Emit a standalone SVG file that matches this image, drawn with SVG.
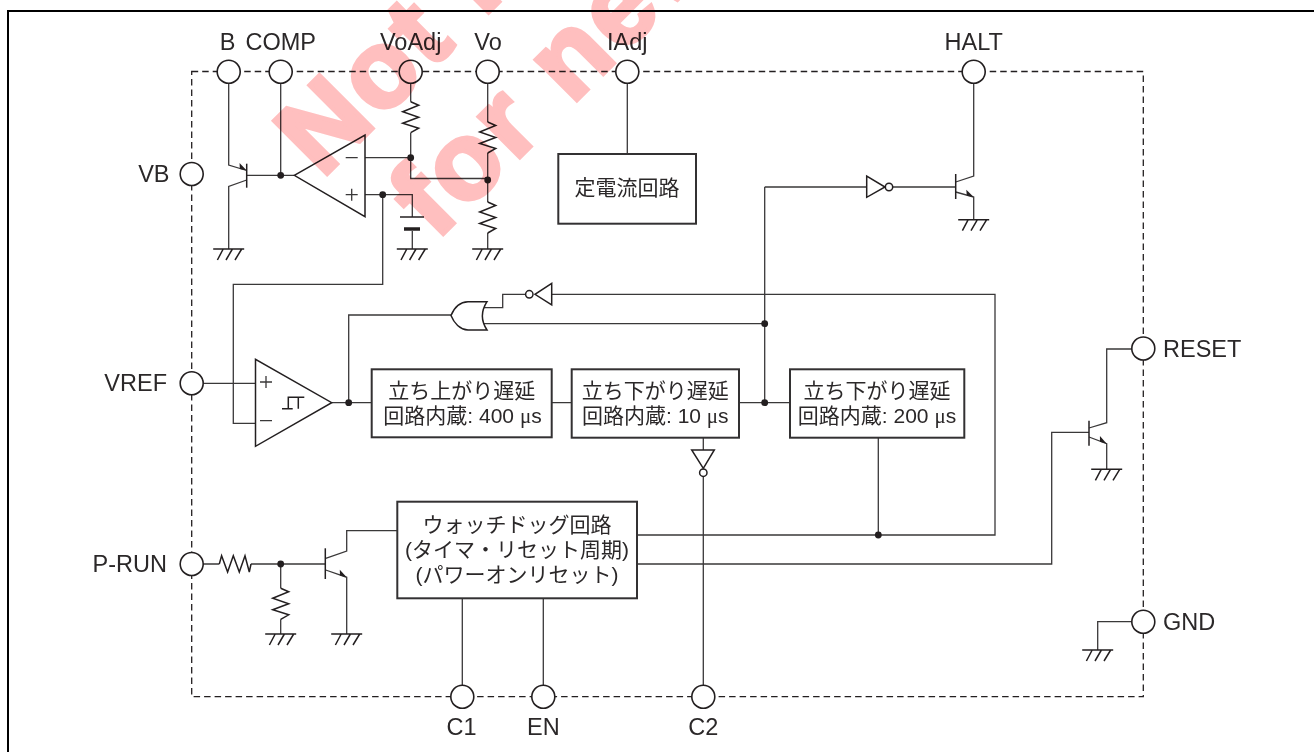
<svg xmlns="http://www.w3.org/2000/svg" width="1314" height="752" viewBox="0 0 1314 752">
<style>
text{font-family:"Liberation Sans","Noto Sans CJK JP",sans-serif;fill:#2b2829}
.pin{font-size:23.5px}
.m{text-anchor:middle}
.e{text-anchor:end}
.jp{font-size:21px;text-anchor:middle}
.w{fill:none;stroke:#3a3839;stroke-width:1.3}
.s{fill:none;stroke:#231f20;stroke-width:1.5}
.b{fill:none;stroke:#333132;stroke-width:2}
.d{fill:#231f20}
.p{fill:#fff;stroke:#231f20;stroke-width:1.6}
.u{font-family:"Liberation Serif",serif}
.wm{font-family:"Liberation Sans",sans-serif;font-weight:bold;font-size:109px;letter-spacing:4px;fill:#ffbfbf;stroke:#ffbfbf;stroke-width:4.5;mix-blend-mode:multiply}
</style>
<defs>
<g id="g"><path class="s" d="M-15.5 0H15.5M-5.5 0L-11.3 11M3.7 0L-2.7 11M13 0L6.3 11"/></g>
<g id="r"><path class="s" d="M0 0L8 3.5L-8 10L8 15.5L-8 21.5L8 26.5L0 31"/></g>
<g id="rh"><path class="s" d="M0 0L2.3 -8.3L8.3 8L14 -8.3L20 8L25.7 -8.3L30 8L31.7 0"/></g>
<path id="ah" d="M0 0L-9 -5L-7 0.5Z" fill="#231f20"/>
</defs>
<path fill="none" stroke="#000" stroke-width="2" d="M8 752V11H1314"/>
<path class="w" stroke-dasharray="6.5 4" style="stroke:#231f20" d="M191.7 71.5H1143.3V696.7H191.7Z"/>
<g id="connectors">
<path class="w" d="M228.7 83V165L246.7 170.5M246.7 180L228.7 186.5V249"/>
<path class="w" d="M246.7 175.3H294.3M280.7 83V175.3"/>
<path class="w" d="M365 157.7H410.7M410.7 83V101.7M410.7 132.7V178.5H487.7M487.7 83V122M487.7 153V202M487.7 233V249"/>
<path class="w" d="M365 194.7H412.3V217M412.3 231V249"/>
<path class="w" d="M382.7 194.7V284.3H233.3V423.3H255.5M203 383.3H255.5"/>
<path class="w" d="M331.7 402.7H371.7M348.7 402.7V315H451"/>
<path class="w" d="M484 307.7H502.7V294.3H525.5M551.7 294.3H995V535H637"/>
<path class="w" d="M483.5 323.7H764.7M764.7 187V402.7M764.7 187H866.7M892.7 187H955.7"/>
<path class="w" d="M955.7 182L973.7 176V83M955.7 192L973.7 197V219.7"/>
<path class="w" d="M627.3 83V154M551.7 402.7H571.7M739 402.7H790"/>
<path class="w" d="M703.3 437.7V450M703.3 476.5V685M878.3 437.7V535"/>
<path class="w" d="M637 564H1051.7V432.3H1089"/>
<path class="w" d="M1089 428L1106.7 422.7V349H1132M1089 437L1106.7 443.7V469.3"/>
<path class="w" d="M1132 621.7H1097.7V650"/>
<path class="w" d="M203 564H219.3M251 564H325.3M280.7 564V588.3M280.7 619.3V634"/>
<path class="w" d="M325.7 558.3L346.7 551V530.7H397.3M325.7 570L346.7 577.3V634"/>
<path class="w" d="M462.3 598.3V685M543.3 598.3V685"/>
</g>
<g id="dots">
<circle class="d" cx="280.7" cy="175.3" r="3.4"/><circle class="d" cx="410.7" cy="157.7" r="3.4"/><circle class="d" cx="487.7" cy="180" r="3.4"/><circle class="d" cx="382.7" cy="194.7" r="3.4"/><circle class="d" cx="348.7" cy="402.7" r="3.4"/><circle class="d" cx="764.7" cy="323.7" r="3.4"/><circle class="d" cx="764.7" cy="402.7" r="3.4"/><circle class="d" cx="878.3" cy="535" r="3.4"/><circle class="d" cx="280.7" cy="564" r="3.4"/>
</g>
<g id="pin-B"><circle class="p" cx="228.7" cy="71.7" r="11.5"/><text class="pin m" x="227.7" y="49.5">B</text></g>
<g id="pin-COMP"><circle class="p" cx="280.7" cy="71.7" r="11.5"/><text class="pin m" x="280.7" y="49.5">COMP</text></g>
<g id="pin-VoAdj"><circle class="p" cx="410.7" cy="71.7" r="11.5"/><text class="pin m" x="410.7" y="49.5">VoAdj</text></g>
<g id="pin-Vo"><circle class="p" cx="487.7" cy="71.7" r="11.5"/><text class="pin m" x="488" y="49.5">Vo</text></g>
<g id="pin-IAdj"><circle class="p" cx="627.3" cy="71.7" r="11.5"/><text class="pin m" x="627.3" y="49.5">IAdj</text></g>
<g id="pin-HALT"><circle class="p" cx="973.7" cy="71.7" r="11.5"/><text class="pin m" x="973.7" y="49.5">HALT</text></g>
<g id="pin-VB"><circle class="p" cx="191.7" cy="174" r="11.5"/><text class="pin e" x="169.5" y="182">VB</text></g>
<g id="pin-VREF"><circle class="p" cx="191.7" cy="383.3" r="11.5"/><text class="pin e" x="167" y="391">VREF</text></g>
<g id="pin-PRUN"><circle class="p" cx="191.7" cy="564" r="11.5"/><text class="pin e" x="167" y="572">P-RUN</text></g>
<g id="pin-RESET"><circle class="p" cx="1143.3" cy="348.5" r="11.5"/><text class="pin" x="1163" y="357">RESET</text></g>
<g id="pin-GND"><circle class="p" cx="1143.3" cy="621.7" r="11.5"/><text class="pin" x="1163" y="630">GND</text></g>
<g id="pin-C1"><circle class="p" cx="462.3" cy="696.7" r="11.5"/><text class="pin m" x="461.5" y="735">C1</text></g>
<g id="pin-EN"><circle class="p" cx="543.3" cy="696.7" r="11.5"/><text class="pin m" x="543.3" y="735">EN</text></g>
<g id="pin-C2"><circle class="p" cx="703.3" cy="696.7" r="11.5"/><text class="pin m" x="703.3" y="735">C2</text></g>
<g id="transistor-1"><path class="s" d="M246.7 163.7V187.7"/><use href="#ah" transform="translate(246.7 170.5) rotate(17)"/></g>
<g id="transistor-2"><path class="s" d="M955.7 174V199"/><use href="#ah" transform="translate(973.7 197) rotate(15)"/></g>
<g id="transistor-3"><path class="s" d="M1089 420.7V445.7"/><use href="#ah" transform="translate(1106.7 443.7) rotate(20)"/></g>
<g id="transistor-4"><path class="s" d="M325.3 548.3V579"/><use href="#ah" transform="translate(346.7 577.3) rotate(19)"/></g>
<g id="erramp"><path class="s" d="M294.3 175.3L365 135V216.7Z"/><path class="w" d="M345.7 157.7H357.7M345.7 194.7H357.7M351.7 188.7V200.7"/></g>
<g id="comparator"><path class="s" d="M255.5 359.3V446.3L331.7 402.7Z"/><path class="w" d="M260 382H272M266 376V388M260 420.7H272"/><path class="s" d="M282 408.7H292.7M288.3 408.7V397.3H304.3M298.3 397.3V408.7"/></g>
<g id="cap"><path class="s" d="M400 217H424"/><path d="M404 229H420" fill="none" stroke="#231f20" stroke-width="3.5"/></g>
<g id="resistors"><use href="#r" x="410.7" y="101.7"/><use href="#r" x="487.7" y="122"/><use href="#r" x="487.7" y="202"/><use href="#r" x="280.7" y="588.3"/><use href="#rh" x="219.3" y="564"/></g>
<g id="grounds"><use href="#g" x="228.7" y="249"/><use href="#g" x="412.3" y="249"/><use href="#g" x="487.7" y="249"/><use href="#g" x="973.7" y="219.7"/><use href="#g" x="1106.7" y="469.3"/><use href="#g" x="1097.7" y="650"/><use href="#g" x="280.7" y="634"/><use href="#g" x="346.7" y="634"/></g>
<g id="or-gate"><path class="s" d="M487 301.7H468C460 302 454 308 451 315.5C454 323 460 329.5 468 330H487C481 321 481 311 487 301.7Z"/></g>
<g id="inv-1"><path class="s" d="M551.7 283.3V305L535 294.3Z"/><circle class="s" cx="529.3" cy="294.3" r="3.7"/></g>
<g id="inv-2"><path class="s" d="M866.7 176V197.3L885 187Z"/><circle class="s" cx="889" cy="187" r="3.7"/></g>
<g id="inv-3"><path class="s" d="M691.7 450H714.3L703.3 468.3Z"/><circle class="s" cx="703.3" cy="472.7" r="3.7"/></g>
<g id="box-cc"><rect class="b" x="558.3" y="154" width="137.7" height="69.7"/><text class="jp" x="627" y="195">定電流回路</text></g>
<g id="box-d1"><rect class="b" x="371.7" y="369.3" width="180" height="68"/><text class="jp" x="461.7" y="398">立ち上がり遅延</text><text class="jp" x="462.5" y="423">回路内蔵: 400 <tspan class="u">μ</tspan>s</text></g>
<g id="box-d2"><rect class="b" x="571.7" y="369.3" width="167.3" height="68.4"/><text class="jp" x="655.3" y="398">立ち下がり遅延</text><text class="jp" x="655.3" y="423">回路内蔵: 10 <tspan class="u">μ</tspan>s</text></g>
<g id="box-d3"><rect class="b" x="790" y="369.3" width="174.3" height="68.4"/><text class="jp" x="877" y="398">立ち下がり遅延</text><text class="jp" x="877" y="423">回路内蔵: 200 <tspan class="u">μ</tspan>s</text></g>
<g id="box-wd"><rect class="b" x="397.3" y="501.7" width="239.7" height="96.6"/><text class="jp" x="517" y="531.5">ウォッチドッグ回路</text><text class="jp" x="517" y="556.5">(タイマ・リセット周期)</text><text class="jp" x="517" y="582">(パワーオンリセット)</text></g>
<g id="watermark">
<text class="wm" transform="translate(322 179) rotate(-45)">Not r</text>
<text class="wm" transform="translate(436 241) rotate(-45)">for new</text>
</g>
</svg>
